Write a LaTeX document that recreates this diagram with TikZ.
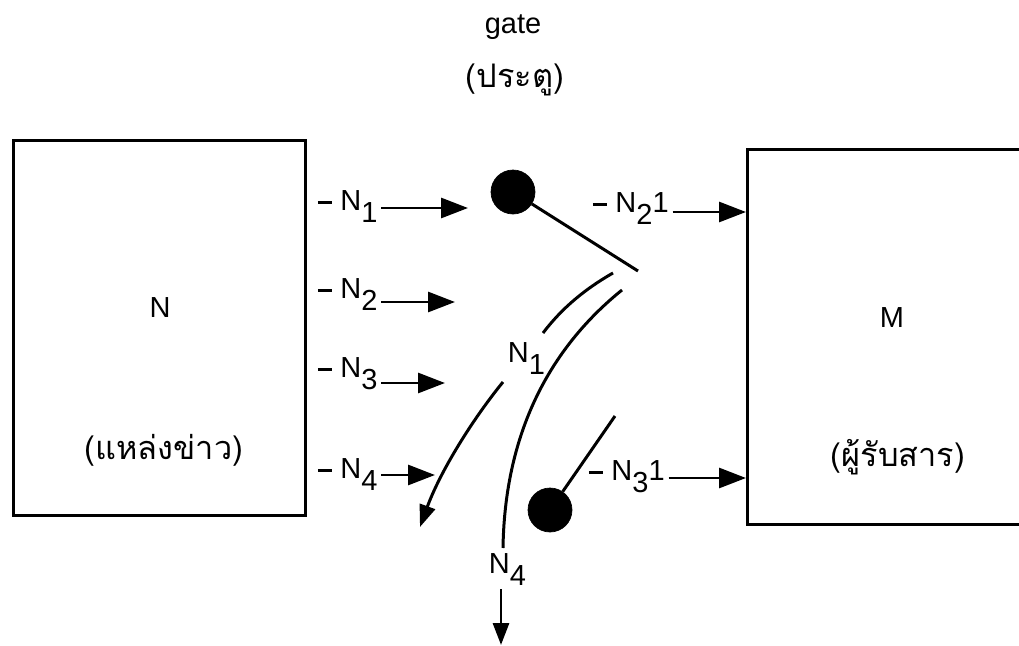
\documentclass[tikz,border=0pt]{standalone}
\usepackage{fontspec}
\setmainfont{Liberation Sans}
\newfontfamily\thaifont[Script=Thai, Scale=1.12]{Loma}
\usetikzlibrary{arrows.meta}

% lowered index, nearly full size as in the figure
\newcommand{\lowidx}[1]{\raisebox{-7pt}{#1}}
% leading bar before an item name
\newcommand{\leadbar}{\rule[0.2em]{0.5em}{0.1em}\hspace{0.28em}}

\tikzset{
  box/.style={draw, rectangle, line width=1.7pt, inner sep=0pt},
  gatedot/.style={draw, circle, fill=black, minimum size=0.88cm, inner sep=0pt},
  lbl/.style={inner sep=2pt, anchor=base west},
  flow/.style={-{Triangle[length=5.4mm,width=4mm]}, line width=1.7pt},
  thin flow/.style={-{Triangle[length=4.4mm,width=3.2mm]}, line width=1.7pt},
  lever/.style={line width=1.7pt}
}

\begin{document}
\begin{tikzpicture}[x=0.02cm, y=-0.02cm, font=\fontsize{16.5}{19}\selectfont]
          \useasboundingbox (0,0) rectangle (1019,646);
          \clip (0,0) rectangle (1019,646);

          % Source and receiver boxes
          \node[box, minimum width=5.86cm, minimum height=7.52cm] (src) at (159.5,328) {};
          \node (srcname) at (160,308) {N};
          \node (srcthai) at (164,450) {\thaifont (แหล่งข่าว)};
          \node[box, minimum width=5.9cm, minimum height=7.52cm] (dst) at (895,337) {};
          \node (dstname) at (892,318) {M};
          \node (dstthai) at (898,457) {\thaifont (ผู้รับสาร)};

          % Gate title
          \node (gate) at (513,27) {gate};
          \node (gatethai) at (515,80) {\thaifont (ประตู)};

          % Gates (dots) with levers
          \node[gatedot] (gtop) at (513,192) {};
          \node[gatedot] (gbot) at (550,510) {};
          \coordinate (levtop) at (638,271);
          \coordinate (levbot) at (615,416);
          \draw[lever] (gtop) -- (levtop);
          \draw[lever] (gbot) -- (levbot);

          % Incoming items
          \node[lbl] (in1) at (314,210) {\leadbar N\lowidx{1}};
          \node[lbl] (in2) at (314,298) {\leadbar N\lowidx{2}};
          \node[lbl] (in3) at (314,377) {\leadbar N\lowidx{3}};
          \node[lbl] (in4) at (314,478) {\leadbar N\lowidx{4}};
          \coordinate (in1end) at (468,208);
          \coordinate (in2end) at (455,302);
          \coordinate (in3end) at (445,383);
          \coordinate (in4end) at (435,475);
          \draw[flow] (in1.east |- in1end) -- (in1end);
          \draw[flow] (in2.east |- in2end) -- (in2end);
          \draw[flow] (in3.east |- in3end) -- (in3end);
          \draw[flow] (in4.east |- in4end) -- (in4end);

          % Items passed to the receiver
          \node[lbl] (out1) at (589,212) {\leadbar N\lowidx{2}1};
          \node[lbl] (out2) at (585,480) {\leadbar N\lowidx{3}1};
          \coordinate (out1end) at (746,212);
          \coordinate (out2end) at (746,478);
          \draw[flow] (out1.east |- out1end) -- (out1end);
          \draw[flow] (out2.east |- out2end) -- (out2end);

          % Rejected items
          \coordinate (a1) at (613,273);
          \coordinate (a2) at (543,333);
          \coordinate (b1) at (503,382);
          \coordinate (b2) at (420,527);
          \coordinate (c1) at (622,290);
          \coordinate (c2) at (503,548);
          \draw[lever] (a1) .. controls (585,289) and (562,308) .. (a2);
          \draw[thin flow] (b1) .. controls (472,420) and (440,472) .. (b2);
          \draw[lever] (c1) .. controls (560,340) and (505,420) .. (c2);
          \node[lbl] (rej1) at (504,362) {N\lowidx{1}};
          \node[lbl] (rej4) at (485,573) {N\lowidx{4}};
          \coordinate (downend) at (501,645);
          \draw[thin flow] (rej4.south -| downend) -- (downend);
        \end{tikzpicture}
\end{document}
